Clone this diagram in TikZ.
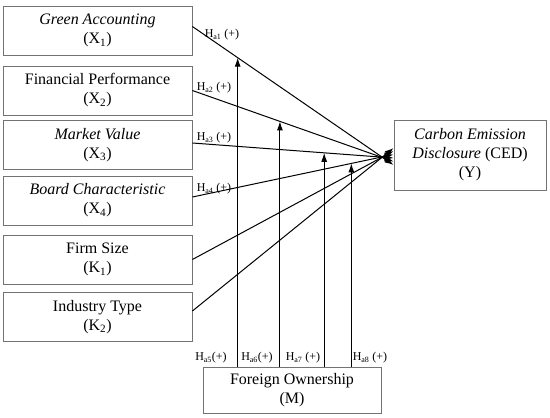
\documentclass[tikz,border=0pt]{standalone}
\usepackage{fontspec}
\setmainfont{Liberation Serif}
\usetikzlibrary{arrows.meta}

\begin{document}
\begin{tikzpicture}[x=1pt,y=-1pt]
	\tikzstyle{var}=[draw=black!55, line width=0.8pt, rectangle, align=center, font=\fontsize{16}{19}\selectfont, inner sep=0pt]
	\tikzstyle{path}=[draw=black, line width=1pt, -{Latex[length=9pt,width=6pt]}]
	\tikzstyle{hyp}=[font=\fontsize{12}{14}\selectfont, inner sep=0pt]

	\useasboundingbox (0,0) rectangle (550,418);

	% Independent and control variables
	\foreach \x/\y/\t in {1/30.5/{\textit{Green Accounting}\\(X\textsubscript{1})},
	                      2/90.5/{Financial Performance\\(X\textsubscript{2})},
	                      3/145/{\textit{Market Value}\\(X\textsubscript{3})},
	                      4/200.5/{\textit{Board Characteristic}\\(X\textsubscript{4})},
	                      5/259.5/{Firm Size\\(K\textsubscript{1})},
	                      6/317/{Industry Type\\(K\textsubscript{2})}}
		\node[var, minimum width=189pt, minimum height=49pt] at (97.5, \y) (left_\x) {\t};

	% Dependent variable
	\node[var, minimum width=152pt, minimum height=70pt] at (470, 155) (dep) {\textit{Carbon Emission}\\\textit{Disclosure} (CED)\\(Y)};

	% Moderating variable
	\node[var, minimum width=178pt, minimum height=46pt] at (292, 390) (mod) {Foreign Ownership\\(M)};

	%----------------------------------------------------%
	%                  connect variables                 %
	%----------------------------------------------------%

	% X and K -> Y
	\draw[path] ([yshift=4]left_1.east) -- ([yshift=-10]dep.west) coordinate[pos=0.225] (tip_1);
	\draw[path] (left_2.east) -- ([yshift=-6.5]dep.west) coordinate[pos=0.435] (tip_2);
	\draw[path] ([yshift=2]left_3.east) -- ([yshift=-3]dep.west) coordinate[pos=0.655] (tip_3);
	\draw[path] ([yshift=3.5]left_4.east) -- ([yshift=0.5]dep.west) coordinate[pos=0.79] (tip_4);
	\draw[path] (left_5.east) -- ([yshift=4]dep.west);
	\draw[path] ([yshift=6]left_6.east) -- ([yshift=7]dep.west);

	% M -> moderated paths
	\foreach \i in {1,...,4}
		\draw[path] (tip_\i |- mod.north) -- (tip_\i);

	% -------------------------------------------%
	%              Hypothesis labels             %
	%--------------------------------------------%

	\node[hyp] at (222, 35) (h_1) {H\textsubscript{a1} (+)};
	\node[hyp] at (214, 88) (h_2) {H\textsubscript{a2} (+)};
	\node[hyp] at (214, 138) (h_3) {H\textsubscript{a3} (+)};
	\node[hyp] at (214, 189) (h_4) {H\textsubscript{a4} (+)};
	\node[hyp] at (211, 358) (h_5) {H\textsubscript{a5}(+)};
	\node[hyp] at (257, 358) (h_6) {H\textsubscript{a6}(+)};
	\node[hyp] at (303, 358) (h_7) {H\textsubscript{a7} (+)};
	\node[hyp] at (370, 358) (h_8) {H\textsubscript{a8} (+)};
\end{tikzpicture}
\end{document}
